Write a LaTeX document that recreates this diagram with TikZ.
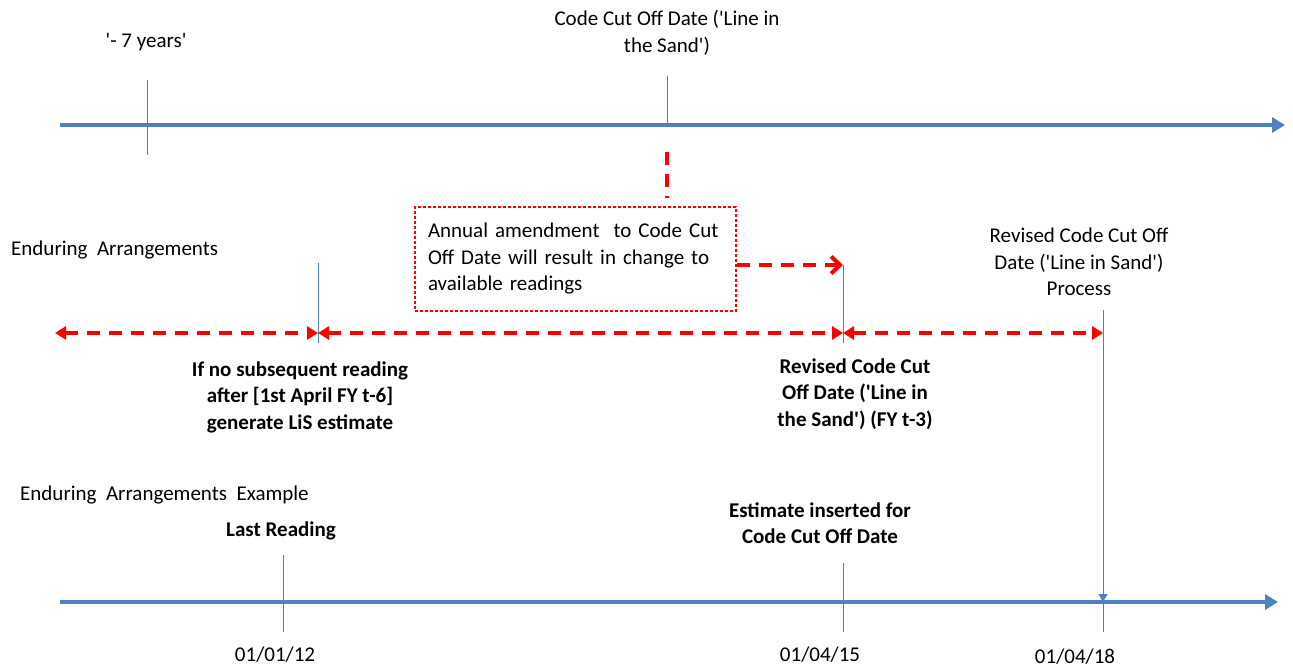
\documentclass[tikz,border=0pt]{standalone}
\usepackage{fontspec}
\setmainfont{Carlito}[Ligatures=TeXOff]
\usetikzlibrary{arrows.meta,positioning}
\definecolor{axisblue}{RGB}{79,129,189}
\definecolor{cutred}{RGB}{255,0,0}
\tikzset{%
	axis/.style     = {axisblue, line width=4pt, -{Triangle[length=13pt,width=15pt]}},
	tick/.style     = {axisblue, line width=1pt},
	redline/.style  = {cutred, line width=4pt, dash pattern=on 13pt off 9pt},
	twoway/.style   = {redline, {Triangle[length=11pt,width=13pt]}-{Triangle[length=11pt,width=13pt]}},
	notebox/.style  = {draw=cutred, line width=1.2pt, dash pattern=on 3pt off 2pt, minimum width=321pt, minimum height=104pt, text width=295pt, align=left, inner xsep=13pt, font=\fontsize{21}{26.5}\selectfont},
	lbl/.style      = {align=center, inner sep=0pt, font=\fontsize{21}{26.5}\selectfont},
	blbl/.style     = {align=center, inner sep=0pt, font=\fontsize{21}{26.5}\selectfont\bfseries},
}
\begin{document}
\begin{tikzpicture}[x=1pt,y=-1pt]
	\useasboundingbox (0,0) rectangle (1293,671);

	\coordinate (t0) at (60,125);
	\coordinate (t1) at (1285,125);
	\coordinate (b0) at (60,602);
	\coordinate (b1) at (1278,602);
	\draw[axis] (t0) -- (t1);
	\draw[axis] (b0) -- (b1);

	\node[lbl] (years) at (146,42) {'- 7 years'};
	\node[lbl] (cutoff) at (667,33) {Code Cut Off Date ('Line in\\the Sand')};
	\draw[tick] (147,80) coordinate (yrtop) -- (147,155) coordinate (yrbot);
	\draw[tick] (667,76) coordinate (cuttop) -- (667,125) coordinate (cutbot);

	\node[notebox] (amend) at (575.5,259) {Annual amendment~ to Code Cut\\Off Date will result in change to\\available readings};
	\coordinate (drop) at (667,198);
	\draw[redline] (667,152) -- (drop);
	\coordinate (revtop) at (843,265);
	\draw[redline, -{Straight Barb[length=9pt,width=17pt]}] (amend.east |- revtop) -- (revtop);

	\node[lbl, anchor=west] (enduring) at (11,250) {Enduring~ Arrangements};
	\node[lbl] (revised) at (1079,262) {Revised Code Cut Off\\Date ('Line in Sand')\\Process};

	\coordinate (r0) at (55,333);
	\coordinate (r1) at (318,333);
	\coordinate (r2) at (843,333);
	\coordinate (r3) at (1103,333);
	\draw[tick] (318,263) -- (318,343);
	\draw[tick] (revtop) -- (843,343);
	\draw[twoway] (r0) -- (r1);
	\draw[twoway] (r1) -- (r2);
	\draw[twoway] (r2) -- (r3);

	\node[blbl] (noread) at (300,397) {If no subsequent reading\\after [1st April FY t-6]\\generate LiS estimate};
	\node[blbl] (revfy) at (855,394) {Revised Code Cut\\Off Date ('Line in\\the Sand') (FY t-3)};

	\node[lbl, anchor=west] (example) at (20,495) {Enduring~ Arrangements~ Example};
	\node[blbl] (last) at (281,531) {Last Reading};
	\node[blbl] (estimate) at (820,523) {Estimate inserted for\\Code Cut Off Date};

	\coordinate (d1) at (1103,602);
	\draw[tick, -{Triangle[length=8pt,width=9pt]}] (1103,310) -- (d1);
	\draw[tick] (d1) -- (1103,632);
	\draw[tick] (283,555) -- (283,632);
	\draw[tick] (843,563) -- (843,632);

	\node[lbl] (date1) at (275,655) {01/01/12};
	\node[lbl] (date2) at (820,655) {01/04/15};
	\node[lbl] (date3) at (1075,657) {01/04/18};
\end{tikzpicture}
\end{document}
